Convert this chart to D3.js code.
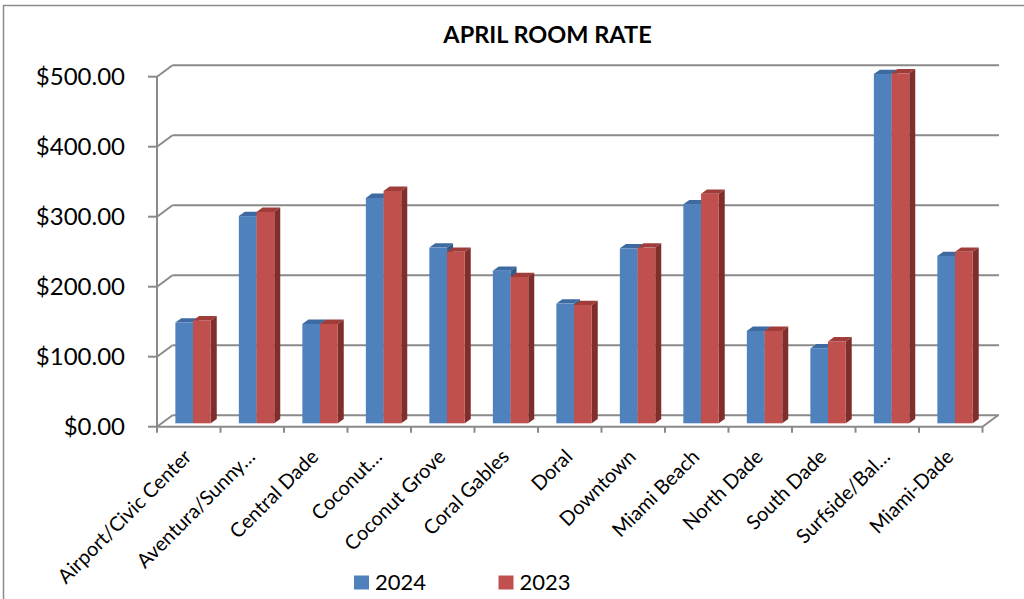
<!DOCTYPE html>
<html>
<head>
<meta charset="utf-8">
<script src="https://cdn.jsdelivr.net/npm/d3@7"></script>
<style>
  body { margin: 0; background: #fff; }
  svg { display: block; font-family: Lato, "Open Sans", sans-serif; }
</style>
</head>
<body>
<script>
const categories = ['Airport/Civic Center', 'Aventura/Sunny…', 'Central Dade', 'Coconut…', 'Coconut Grove',
  'Coral Gables', 'Doral', 'Downtown', 'Miami Beach', 'North Dade', 'South Dade', 'Surfside/Bal…', 'Miami-Dade'];
const rate2024 = [144, 296, 142, 322, 251, 218, 171, 250, 313, 132, 107, 499, 239];
const rate2023 = [147, 302, 142, 332, 245, 209, 169, 251, 328, 132, 117, 500, 245];
const seriesNames = ['2024', '2023'];
const yTicks = [0, 100, 200, 300, 400, 500];

const width = 1024;
const height = 599;

// 3d look: back wall offset and bar depth
const wallDx = 15.5, wallDy = -11.5;
const barDx = 4.3, barDy = -3.4;
const sideDx = 6, sideDy = -4.3;

const colors = {
  '2024': {front: '#4f81bd', top: '#3d6aa0', side: '#345a88'},
  '2023': {front: '#c0504d', top: '#a03c39', side: '#7f2e2c'}
};
const gridColor = '#8a8a8a';

const svg = d3.select('body')
  .append('svg')
  .attr('width', width)
  .attr('height', height);

// chart frame
svg.append('rect')
  .attr('x', 3.5).attr('y', 5.5)
  .attr('width', 1100).attr('height', 700)
  .attr('fill', 'none')
  .attr('stroke', '#8c8c8c')
  .attr('stroke-width', 1.5);

svg.append('text')
  .attr('x', 547.5)
  .attr('y', 43)
  .attr('text-anchor', 'middle')
  .attr('font-weight', 'bold')
  .attr('font-size', 23.5)
  .text('APRIL ROOM RATE');

const x0 = d3.scaleBand()
  .domain(categories)
  .range([157, 982.5]);

const x1 = d3.scaleBand()
  .domain(seriesNames)
  .range([0, 35.4]);

const y = d3.scaleLinear()
  .domain([0, 500])
  .range([426.7, 76.7]);

// back wall gridlines + left diagonals
const grid = svg.append('g');
yTicks.forEach(t => {
  grid.append('line')
    .attr('x1', x0.range()[0] + wallDx).attr('x2', x0.range()[1] + wallDx + 1)
    .attr('y1', y(t) + wallDy).attr('y2', y(t) + wallDy);
  grid.append('line')
    .attr('x1', x0.range()[0]).attr('x2', x0.range()[0] + wallDx)
    .attr('y1', y(t)).attr('y2', y(t) + wallDy);
  grid.append('line')
    .attr('x1', x0.range()[0] - 9).attr('x2', x0.range()[0])
    .attr('y1', y(t)).attr('y2', y(t));
});
// front axis line, floor edge
grid.append('line')
  .attr('x1', x0.range()[0]).attr('x2', x0.range()[0])
  .attr('y1', y(500)).attr('y2', y(0));
grid.append('line')
  .attr('x1', x0.range()[0]).attr('x2', x0.range()[1])
  .attr('y1', y(0)).attr('y2', y(0));
grid.append('line')
  .attr('x1', x0.range()[1]).attr('x2', x0.range()[1] + wallDx)
  .attr('y1', y(0)).attr('y2', y(0) + wallDy);
// category ticks
categories.concat(['__end']).forEach((c, i) => {
  const xx = i < categories.length ? x0(c) : x0.range()[1];
  grid.append('line')
    .attr('x1', xx).attr('x2', xx)
    .attr('y1', y(0)).attr('y2', y(0) + 6);
});
grid.selectAll('line')
  .attr('stroke', gridColor)
  .attr('stroke-width', 2);

// y labels
svg.append('g')
  .selectAll('text')
  .data(yTicks)
  .enter()
  .append('text')
  .attr('x', 125)
  .attr('y', d => y(d))
  .attr('dy', '0.36em')
  .attr('text-anchor', 'end')
  .attr('font-size', 24)
  .text(d => '$' + d3.format('.2f')(d));

// bars
const data = categories.map((c, i) => ({cat: c, vals: [rate2024[i], rate2023[i]]}));
const groupOff = (x0.bandwidth() - x1.range()[1]) / 2 + barDx;

const groups = svg.append('g')
  .selectAll('g')
  .data(data)
  .enter()
  .append('g')
  .attr('transform', d => `translate(${x0(d.cat) + groupOff}, ${barDy})`);

seriesNames.forEach((s, si) => {
  const bw = x1.bandwidth();
  const bx = d => x1(s);
  const top = d => y(d.vals[si]);
  const base = y(0);
  // top face
  groups.append('path')
    .attr('fill', colors[s].top)
    .attr('d', d => `M${bx(d)},${top(d)} L${bx(d) + sideDx},${top(d) + sideDy} L${bx(d) + bw + sideDx},${top(d) + sideDy} L${bx(d) + bw},${top(d)} Z`);
  // side face
  groups.append('path')
    .attr('fill', colors[s].side)
    .attr('d', d => `M${bx(d) + bw},${top(d)} L${bx(d) + bw + sideDx},${top(d) + sideDy} L${bx(d) + bw + sideDx},${base + sideDy} L${bx(d) + bw},${base} Z`);
  // front face
  groups.append('rect')
    .attr('fill', colors[s].front)
    .attr('x', bx)
    .attr('y', top)
    .attr('width', bw)
    .attr('height', d => base - top(d));
});

// category labels
svg.append('g')
  .selectAll('text')
  .data(categories)
  .enter()
  .append('text')
  .attr('text-anchor', 'end')
  .attr('font-size', 20)
  .attr('transform', d => `translate(${x0(d) + x0.bandwidth() / 2 + 4}, 458) rotate(-45)`)
  .text(d => d);

// legend
const legend = svg.append('g');
const legendX = [354, 498.5];
seriesNames.forEach((s, i) => {
  legend.append('rect')
    .attr('x', legendX[i]).attr('y', 575.5)
    .attr('width', 15).attr('height', 14)
    .attr('fill', colors[s].front);
  legend.append('text')
    .attr('x', legendX[i] + 21).attr('y', 590)
    .attr('font-size', 22)
    .text(s);
});
</script>
</body>
</html>
